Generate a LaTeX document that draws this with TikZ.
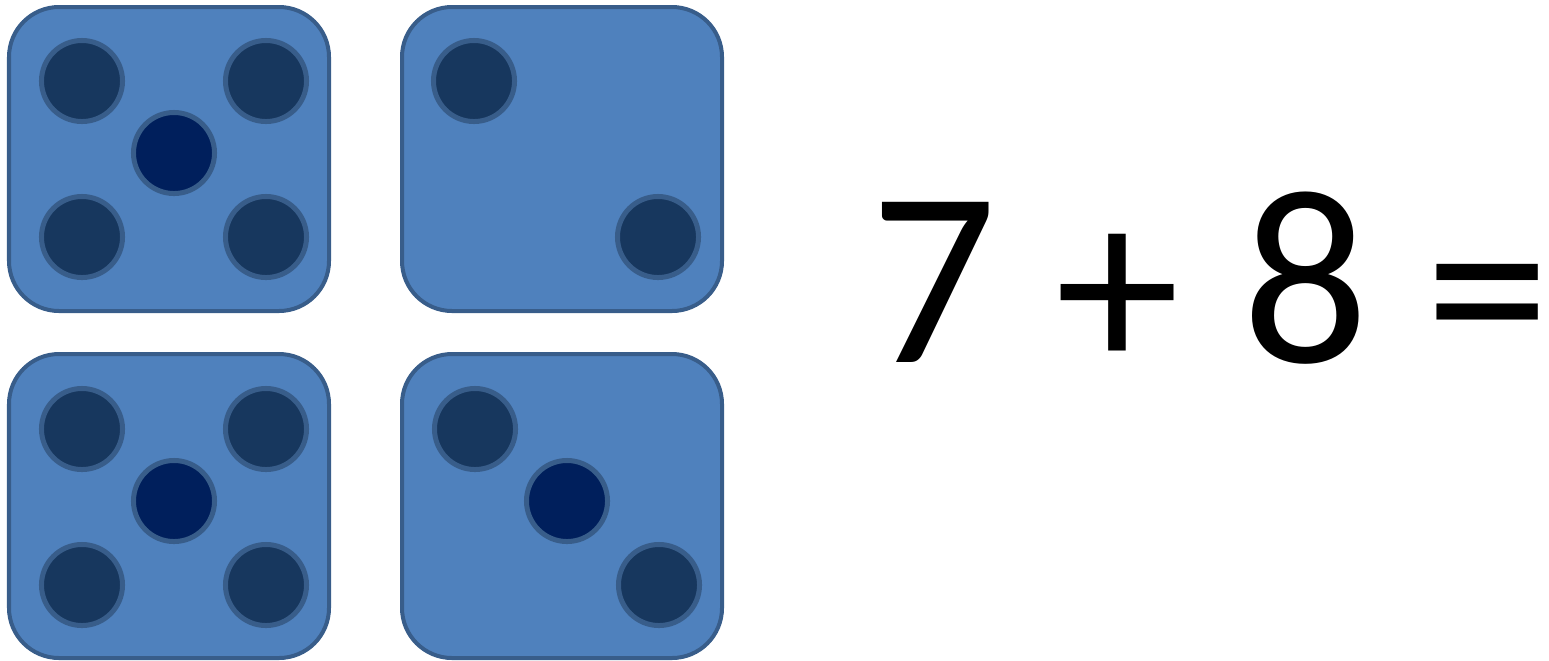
\documentclass[tikz,border=0pt]{standalone}
\usepackage{fontspec}
\setmainfont{Carlito}

\definecolor{diefill}{HTML}{4F81BD}
\definecolor{dieline}{HTML}{385D8A}
\definecolor{pipfill}{HTML}{17375E}
\definecolor{midfill}{HTML}{001F5C}

\tikzset{
  die/.style={fill=diefill, draw=dieline, line width=0.04cm, rounded corners=0.5cm},
  pip/.style={circle, fill=pipfill, draw=dieline, line width=0.05cm, minimum size=0.81cm, inner sep=0pt},
  midpip/.style={pip, fill=midfill},
  sum/.style={anchor=base, inner sep=0pt, font=\fontsize{71}{78}\selectfont}
}

\begin{document}
\begin{tikzpicture}[x=0.01cm, y=-0.01cm]
  \useasboundingbox (0,0) rectangle (1549,660);

  % the four dice
  \draw[die] (9,7) rectangle (329,311);
  \draw[die] (402,7) rectangle (722,311);
  \draw[die] (9,354) rectangle (329,658);
  \draw[die] (402,354) rectangle (722,658);

  % pips of the top left die
  \node[pip] (a1) at (82,81) {};
  \node[pip] (a2) at (266,81) {};
  \node[midpip] (a3) at (174,153) {};
  \node[pip] (a4) at (82,237) {};
  \node[pip] (a5) at (266,237) {};

  % pips of the top right die
  \node[pip] (b1) at (474,81) {};
  \node[pip] (b2) at (658,237) {};

  % pips of the bottom left die
  \node[pip] (c1) at (82,429) {};
  \node[pip] (c2) at (266,429) {};
  \node[midpip] (c3) at (174,501) {};
  \node[pip] (c4) at (82,585) {};
  \node[pip] (c5) at (266,585) {};

  % pips of the bottom right die
  \node[pip] (d1) at (475,429) {};
  \node[midpip] (d2) at (567,501) {};
  \node[pip] (d3) at (659,585) {};

  % the sum
  \node[sum] (n7) at (934,362) {7};
  \node[sum] (plus) at (1118,371) {+};
  \node[sum] (n8) at (1306,362) {8};
  \node[sum] (eq) at (1488,371) {=};
\end{tikzpicture}
\end{document}
